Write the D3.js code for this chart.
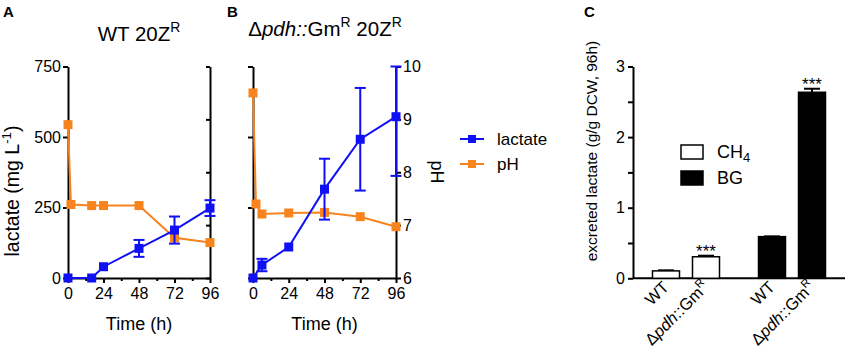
<!DOCTYPE html>
<html><head><meta charset="utf-8">
<script src="https://cdn.jsdelivr.net/npm/d3@7"></script>
<style>
body{margin:0;background:#fff}
svg text{font-family:"Liberation Sans",Arial,sans-serif;fill:#000}
.axis path,.axis line{stroke:#000;stroke-width:2}
</style></head><body>
<svg id="fig" width="847" height="351"></svg>
<script>
const timeTicks = [0,24,48,72,96];
const timeMinor = [12,36,60,84];
const lactTicks = [0,250,500,750];
const phTicks = [6,7,8,9,10];

// panel A - WT 20Z^R
const aLactT   = [0,16,24,48,72,96];
const aLact    = [0,0,40,105,170,248];
const aLactErr = [0,0,0,30,48,28];
const aPhT     = [0,2,16,24,48,72,96];
const aPh      = [8.9,7.39,7.37,7.37,7.37,6.76,6.67];

// panel B - Δpdh::Gm^R 20Z^R
const bLactT   = [0,6,24,48,72,96];
const bLact    = [0,46,110,315,492,572];
const bLactErr = [0,22,0,108,182,210];
const bPhT     = [0,2,6,24,48,72,96];
const bPh      = [9.5,7.4,7.21,7.23,7.24,7.16,6.97];

// panel C - excreted lactate at 96h
const substrates  = ["CH4","BG"];
const strains     = ["WT","pdh"];
const excreted    = [[0.105,0.305],[0.59,2.635]];
const excretedErr = [[0.008,0.015],[0.004,0.05]];
const signif      = [[false,true],[false,true]];
const cTicks = [0,1,2,3];
const cMinor = [0.5,1.5,2.5];

const blue = "#1010f5", orange = "#f7841e";
const svg = d3.select("#fig");
const tickFont = 16;

function sup(t, s, size) {
  t.append("tspan").attr("dy", -size*0.42).attr("font-size", size*0.68).text(s);
}

function timePanel(x0, x1, lT, l, lE, pT, p, opts) {
  const x = d3.scaleLinear().domain([0,96]).range([x0,x1]);
  const yL = d3.scaleLinear().domain([0,750]).range([278,66.5]);
  const yP = d3.scaleLinear().domain([6,10]).range([278,66.5]);
  const g = svg.append("g");

  // x axis, major + minor
  g.append("g").attr("class","axis").attr("transform","translate(0,278)")
    .call(d3.axisBottom(x).tickValues(timeMinor).tickSize(3).tickFormat(""))
    .call(a=>a.select(".domain").remove());
  g.append("g").attr("class","axis").attr("transform","translate(0,278)")
    .call(d3.axisBottom(x).tickValues(timeTicks).tickSize(5).tickPadding(5).tickSizeOuter(0))
    .call(a=>a.selectAll("text").attr("font-size",tickFont));

  // left axis
  const left = g.append("g").attr("class","axis").attr("transform",`translate(${x0},0)`)
    .call(d3.axisLeft(yL).tickValues(lactTicks).tickSize(5).tickPadding(2).tickSizeOuter(0));
  left.selectAll("text").attr("font-size",tickFont);
  if (!opts.leftLabels) left.selectAll("text").remove();

  // right axis
  const right = g.append("g").attr("class","axis").attr("transform",`translate(${x1},0)`);
  if (opts.rightLabels) {
    right.call(d3.axisRight(yP).tickValues(phTicks).tickFormat(d3.format("d")).tickSize(5).tickPadding(2).tickSizeOuter(0));
    right.selectAll("text").attr("font-size",tickFont);
  } else {
    right.call(d3.axisLeft(yP).tickValues(phTicks).tickSize(4).tickFormat("").tickSizeOuter(0));
  }

  // pH series
  const line = d3.line();
  g.append("path").attr("fill","none").attr("stroke",orange).attr("stroke-width",2)
    .attr("d", line(pT.map((t,i)=>[x(t), yP(p[i])])));
  g.selectAll(".ph").data(pT).join("rect")
    .attr("x",(t)=>x(t)-4.5).attr("y",(t,i)=>yP(p[i])-4.5)
    .attr("width",9).attr("height",9).attr("fill",orange);

  // lactate series
  g.append("path").attr("fill","none").attr("stroke",blue).attr("stroke-width",2)
    .attr("d", line(lT.map((t,i)=>[x(t), yL(l[i])])));
  lT.forEach((t,i)=>{
    if (!lE[i]) return;
    const cx = x(t), top = yL(Math.min(750, l[i]+lE[i])), bot = yL(l[i]-lE[i]);
    g.append("line").attr("x1",cx).attr("x2",cx).attr("y1",top).attr("y2",bot)
      .attr("stroke",blue).attr("stroke-width",2);
    [top,bot].forEach(yy=>g.append("line").attr("x1",cx-5.5).attr("x2",cx+5.5)
      .attr("y1",yy).attr("y2",yy).attr("stroke",blue).attr("stroke-width",2));
  });
  g.selectAll(".lac").data(lT).join("rect")
    .attr("x",(t)=>x(t)-4.5).attr("y",(t,i)=>yL(l[i])-4.5)
    .attr("width",9).attr("height",9).attr("fill",blue);

  g.append("text").attr("x",(x0+x1)/2).attr("y",330).attr("text-anchor","middle")
    .attr("font-size",18).text("Time (h)");
}

timePanel(68, 210, aLactT, aLact, aLactErr, aPhT, aPh, {leftLabels:true, rightLabels:false});
timePanel(253, 396, bLactT, bLact, bLactErr, bPhT, bPh, {leftLabels:false, rightLabels:true});

// panel letters
[["A",3,17],["B",227,17],["C",584,17]].forEach(([s,x,y])=>
  svg.append("text").attr("x",x).attr("y",y).attr("font-size",15).attr("font-weight","bold").text(s));

// titles
let t = svg.append("text").attr("x",139).attr("y",41).attr("text-anchor","middle").attr("font-size",20.5);
t.append("tspan").text("WT 20Z"); sup(t,"R",20.5);
t = svg.append("text").attr("x",325).attr("y",36).attr("text-anchor","middle").attr("font-size",20.5);
t.append("tspan").text("Δ");
t.append("tspan").attr("font-style","italic").text("pdh::");
t.append("tspan").text("Gm"); sup(t,"R",20.5);
t.append("tspan").attr("dy",20.5*0.42).text(" 20Z"); sup(t,"R",20.5);

// y labels
t = svg.append("text").attr("transform","translate(19,191) rotate(-90)").attr("text-anchor","middle").attr("font-size",19.5);
t.append("tspan").text("lactate (mg L"); sup(t,"-1",19.5);
t.append("tspan").attr("dy",19.5*0.42).text(")");
svg.append("text").attr("transform","translate(431,172) rotate(90)").attr("text-anchor","middle")
  .attr("font-size",18).text("pH");

// legend for A/B
[["lactate",blue,139],["pH",orange,164]].forEach(([s,c,y])=>{
  svg.append("line").attr("x1",460).attr("x2",484).attr("y1",y).attr("y2",y).attr("stroke",c).attr("stroke-width",2);
  svg.append("rect").attr("x",468).attr("y",y-4).attr("width",8).attr("height",8).attr("fill",c);
  svg.append("text").attr("x",497).attr("y",y+6).attr("font-size",17).text(s);
});

// panel C
const yC = d3.scaleLinear().domain([0,3]).range([278.3,66.5]);
const xG = d3.scaleBand().domain(substrates).range([633,845]);
const xS = d3.scaleBand().domain(strains).range([0,xG.bandwidth()]).paddingInner(0.325).paddingOuter(0.4875);
const gc = svg.append("g");
gc.append("g").attr("class","axis").attr("transform","translate(633,0)")
  .call(d3.axisLeft(yC).tickValues(cMinor).tickSize(5).tickFormat(""))
  .call(a=>a.select(".domain").remove());
gc.append("g").attr("class","axis").attr("transform","translate(633,0)")
  .call(d3.axisLeft(yC).tickValues(cTicks).tickFormat(d3.format("d")).tickSize(5).tickPadding(3).tickSizeOuter(0))
  .call(a=>a.selectAll("text").attr("font-size",tickFont));
gc.append("line").attr("x1",633).attr("x2",845).attr("y1",278.3).attr("y2",278.3).attr("stroke","#000").attr("stroke-width",2);

substrates.forEach((sub,gi)=>{
  strains.forEach((st,si)=>{
    const bx = xG(sub)+xS(st), bw = xS.bandwidth(), v = excreted[gi][si], e = excretedErr[gi][si];
    const cx = bx + bw/2;
    gc.append("line").attr("x1",cx).attr("x2",cx).attr("y1",yC(v)).attr("y2",yC(v+e)).attr("stroke","#000").attr("stroke-width",2);
    gc.append("line").attr("x1",cx-8).attr("x2",cx+8).attr("y1",yC(v+e)).attr("y2",yC(v+e)).attr("stroke","#000").attr("stroke-width",2);
    gc.append("rect").attr("x",bx).attr("y",yC(v)).attr("width",bw).attr("height",yC(0)-yC(v))
      .attr("fill", gi===0 ? "#fff" : "#000").attr("stroke","#000").attr("stroke-width",1.5);
    if (signif[gi][si]) gc.append("text").attr("x",cx).attr("y",yC(v+e)+1).attr("text-anchor","middle")
      .attr("font-size",17).text("***");
    const lt = gc.append("text").attr("transform",`translate(${cx+4},288) rotate(-45)`)
      .attr("text-anchor","end").attr("font-size",16.5);
    if (st==="WT") lt.text("WT");
    else {
      lt.append("tspan").text("Δ");
      lt.append("tspan").attr("font-style","italic").text("pdh");
      lt.append("tspan").text("::Gm"); sup(lt,"R",16.5);
    }
  });
});

svg.append("text").attr("transform","translate(597,151) rotate(-90)").attr("text-anchor","middle").attr("font-size",15.5)
  .text("excreted lactate (g/g DCW, 96h)");

// legend C
[["CH","4","#fff",145,158],["BG","","#000",171,184]].forEach(([s,sub,c,ry,ty])=>{
  svg.append("rect").attr("x",681).attr("y",ry).attr("width",22).attr("height",14).attr("fill",c).attr("stroke","#000").attr("stroke-width",1.5);
  const lt = svg.append("text").attr("x",717).attr("y",ty).attr("font-size",18).text(s);
  if (sub) lt.append("tspan").attr("dy",4).attr("font-size",13).text(sub);
});
</script></body></html>
